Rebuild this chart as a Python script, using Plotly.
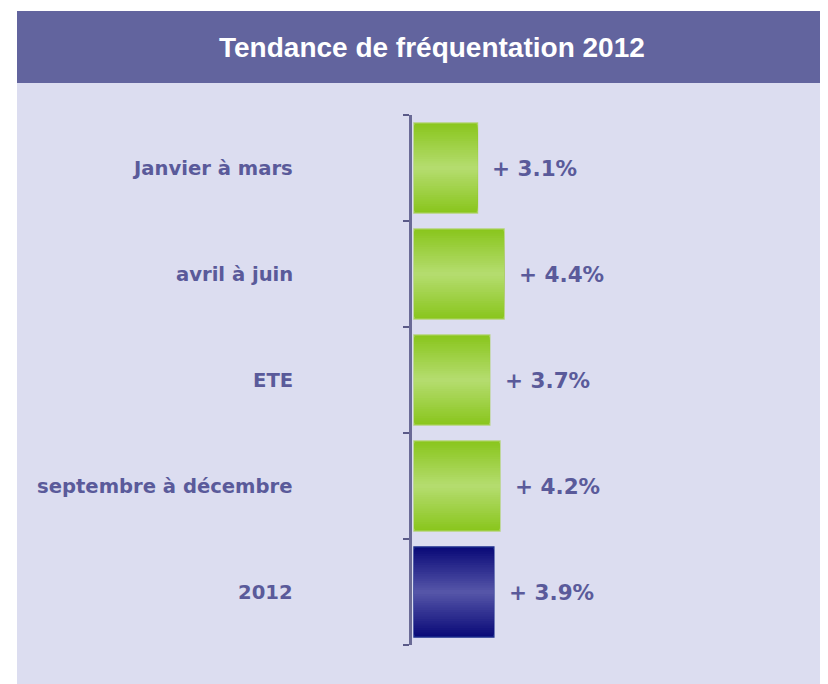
import plotly.graph_objects as go

categories = ["Janvier à mars", "avril à juin", "ETE", "septembre à décembre", "2012"]
values = [3.1, 4.4, 3.7, 4.2, 3.9]
value_labels = ["+ 3.1%", "+ 4.4%", "+ 3.7%", "+ 4.2%", "+ 3.9%"]
title_text = "Tendance de fréquentation 2012"

TEXT = "#5a5a9a"
BAND = "#62649e"
PANEL = "#dcddf0"

# gradient colours (edge -> middle)
green_edge = (138, 198, 30)
green_mid = (180, 220, 110)
navy_edge = (10, 10, 120)
navy_mid = (85, 85, 168)


def mix(a, b, t):
    return "rgb(%d,%d,%d)" % tuple(round(a[i] + (b[i] - a[i]) * t) for i in range(3))


fig = go.Figure()
N = 20
W = 0.85
for k in range(N):
    t = k / (N - 1)
    w = W * (1 - k / N)
    cols = [mix(navy_edge, navy_mid, t) if c == "2012" else mix(green_edge, green_mid, t)
            for c in categories]
    line = dict(width=0)
    if k == 0:
        line = dict(width=1.5, color=["#1a2a8a" if c == "2012" else "rgba(170,210,90,0.8)"
                                      for c in categories])
    fig.add_trace(go.Bar(
        y=list(range(len(categories))), x=values, orientation="h", width=w,
        marker=dict(color=cols, line=line), hoverinfo="skip", showlegend=False,
    ))

annotations = []
for i, (c, v, lab) in enumerate(zip(categories, values, value_labels)):
    annotations.append(dict(x=v, y=i, xref="x", yref="y", text=lab, showarrow=False,
                            xanchor="left", xshift=13,
                            font=dict(family="DejaVu Sans", size=21.5, color=TEXT, weight="bold")))
    annotations.append(dict(x=0, y=i, xref="x", yref="y", text=c, showarrow=False,
                            xanchor="right", xshift=-119,
                            font=dict(family="DejaVu Sans", size=19.6, color=TEXT, weight="bold")))

# figure is offset by the page's 8px body margin
FW, FH = 820, 676
L, R_, T, B = 404, 804, 107, 637


def px_x(p):
    return (p - L) / (R_ - L)


def px_y(p):
    return (B - p) / (B - T)


annotations.append(dict(x=px_x(424), y=px_y(39), xref="paper", yref="paper", text=title_text,
                        showarrow=False, xanchor="center", yanchor="middle",
                        font=dict(family="Liberation Sans", size=28, color="white", weight="bold")))

shapes = [
    dict(type="rect", xref="paper", yref="paper", x0=px_x(9), x1=px_x(FW), y0=px_y(FH), y1=px_y(3),
         fillcolor=PANEL, line=dict(width=0), layer="below"),
    dict(type="rect", xref="paper", yref="paper", x0=px_x(9), x1=px_x(FW), y0=px_y(75), y1=px_y(3),
         fillcolor=BAND, line=dict(width=0), layer="below"),
]

fig.update_layout(
    width=FW, height=FH,
    margin=dict(l=L, r=FW - R_, t=T, b=FH - B),
    paper_bgcolor="white", plot_bgcolor="rgba(0,0,0,0)",
    barmode="overlay",
    annotations=annotations, shapes=shapes,
    xaxis=dict(range=[-0.1, 19.46], visible=False, fixedrange=True),
    yaxis=dict(range=[4.5, -0.5], tickvals=[-0.5, 0.5, 1.5, 2.5, 3.5, 4.5], ticks="outside",
               ticklen=6, tickwidth=2, tickcolor="#5a5a88", showticklabels=False,
               showline=True, linecolor="#6a6a96", linewidth=2.5, showgrid=False,
               zeroline=False, fixedrange=True),
)

fig.write_html("out.html")
